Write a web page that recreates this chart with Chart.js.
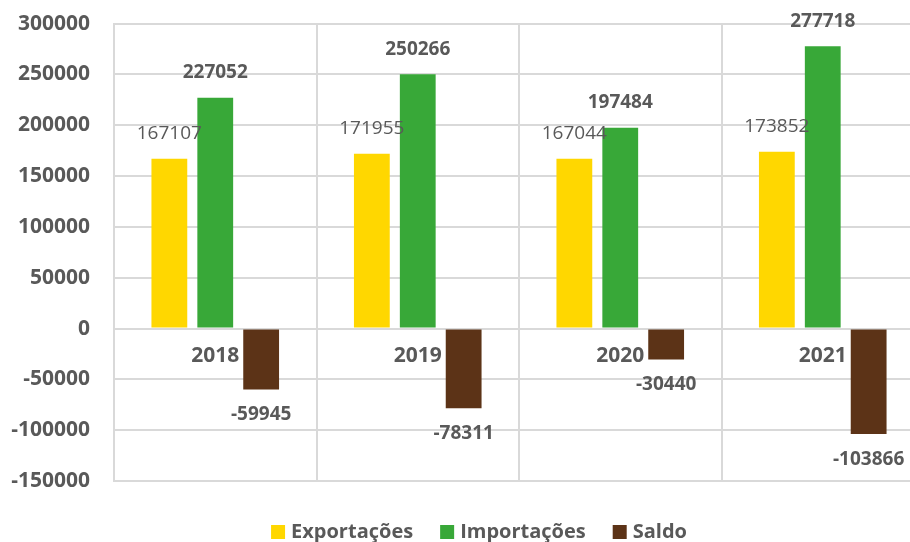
<!DOCTYPE html>
<html lang="pt">
  <head>
    <meta charset="UTF-8" />
    <title>Exportações, Importações e Saldo</title>
    <style>
      * {
        margin: 0;
        padding: 0;
      }
      body {
        width: 910px;
        height: 542px;
        overflow: hidden;
        background: #ffffff;
      }
      .chartBox {
        width: 930px;
        height: 555px;
        margin-top: -13px;
      }
    </style>
  </head>
  <body>
    <div class="chartBox">
      <canvas id="myChart" width="930" height="555"></canvas>
    </div>

    <script src="https://cdn.jsdelivr.net/npm/chart.js"></script>

    <script>
      // data block
      const years = ["2018", "2019", "2020", "2021"];
      const exportacoes = [167107, 171955, 167044, 173852];
      const importacoes = [227052, 250266, 197484, 277718];
      const saldo = [-59945, -78311, -30440, -103866];

      const textGray = "#595959";
      const gridGray = "#D9D9D9";
      const fontFamily = "'Open Sans', sans-serif";

      const data = {
        labels: years,
        datasets: [
          {
            label: "Exportações",
            data: exportacoes,
            backgroundColor: "#FFD700",
            labelBold: false
          },
          {
            label: "Importações",
            data: importacoes,
            backgroundColor: "#38A838",
            labelBold: true
          },
          {
            label: "Saldo",
            data: saldo,
            backgroundColor: "#5C3317",
            labelBold: true
          }
        ]
      };

      // value labels plugin block
      const valueLabels = {
        id: "valueLabels",
        afterDatasetsDraw(chart) {
          const { ctx } = chart;
          ctx.save();
          ctx.textAlign = "center";
          ctx.textBaseline = "middle";
          ctx.fillStyle = textGray;
          chart.data.datasets.forEach((ds, i) => {
            const meta = chart.getDatasetMeta(i);
            ctx.font = (ds.labelBold ? "bold " : "") + "19px " + fontFamily;
            meta.data.forEach((bar, j) => {
              const v = ds.data[j];
              const y = v >= 0 ? bar.y - 25 : bar.y + 25;
              ctx.fillText(String(v), bar.x, y);
            });
          });
          ctx.restore();
        }
      };

      // bottom legend, drawn by hand so its spacing matches
      const bottomLegend = {
        id: "bottomLegend",
        afterDraw(chart) {
          const { ctx } = chart;
          const box = 14, gapText = 6, gapItem = 27;
          const yMid = 545;
          ctx.save();
          ctx.font = "bold 20px " + fontFamily;
          ctx.textBaseline = "middle";
          ctx.textAlign = "left";
          const items = chart.data.datasets.map((ds) => ({
            text: ds.label,
            color: ds.backgroundColor,
            w: ctx.measureText(ds.label).width
          }));
          let total = 0;
          items.forEach((it, i) => {
            total += box + gapText + it.w + (i < items.length - 1 ? gapItem : 0);
          });
          let x = 479 - total / 2;
          items.forEach((it) => {
            ctx.fillStyle = it.color;
            ctx.fillRect(x, yMid - box / 2, box, box);
            x += box + gapText;
            ctx.fillStyle = textGray;
            ctx.fillText(it.text, x, yMid);
            x += it.w + gapItem;
          });
          ctx.restore();
        }
      };

      // config block
      const config = {
        type: "bar",
        data,
        options: {
          responsive: false,
          animation: false,
          layout: {
            padding: { top: 0, right: 6, bottom: 61, left: 0 }
          },
          datasets: {
            bar: {
              categoryPercentage: 0.68,
              barPercentage: 0.78
            }
          },
          scales: {
            x: {
              position: { y: 0 },
              grid: {
                offset: true,
                color: gridGray,
                lineWidth: 2,
                drawTicks: false
              },
              border: { display: true, color: gridGray, width: 2 },
              ticks: {
                color: textGray,
                padding: 15,
                font: { family: fontFamily, size: 21, weight: "bold" }
              }
            },
            y: {
              min: -150000,
              max: 300000,
              afterFit(scale) {
                scale.width = 114;
              },
              grid: {
                color: gridGray,
                lineWidth: 2,
                drawTicks: false
              },
              border: { display: true, color: gridGray, width: 2 },
              ticks: {
                stepSize: 50000,
                color: textGray,
                padding: 24,
                font: { family: fontFamily, size: 21, weight: "bold" },
                callback: (v) => String(v)
              }
            }
          },
          plugins: {
            legend: { display: false },
            tooltip: { enabled: false }
          }
        },
        plugins: [valueLabels, bottomLegend]
      };

      // init render block
      const myChart = new Chart(document.getElementById("myChart"), config);
    </script>
  </body>
</html>
